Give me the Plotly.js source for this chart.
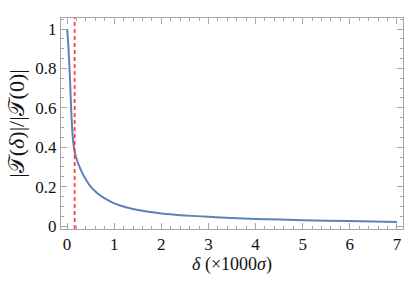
<!DOCTYPE html>
<html><head><meta charset="utf-8">
<script src="https://cdn.plot.ly/plotly-3.0.1.min.js"></script>
<style>html,body{margin:0;padding:0;background:#fff}#c{width:415px;height:290px}</style>
</head><body><div id="c"></div>
<script>
const delta = [0, 0.03, 0.06, 0.09, 0.12, 0.15, 0.2, 0.3, 0.4, 0.5, 0.65, 0.8, 1.0, 1.25, 1.5, 2, 2.5, 3, 3.5, 4, 5, 6, 7];
const ratio = [1.0, 0.9, 0.75, 0.57, 0.45, 0.39, 0.34, 0.28, 0.235, 0.2, 0.165, 0.14, 0.115, 0.095, 0.081, 0.064, 0.054, 0.047, 0.041, 0.036, 0.03, 0.025, 0.021];
const cutoff = [0.16];
const xTicks = [0, 1, 2, 3, 4, 5, 6, 7];
const yTicks = [0, 0.2, 0.4, 0.6, 0.8, 1];
const yTickText = ['0', '0.2', '0.4', '0.6', '0.8', '1'];

const SERIF = 'Liberation Serif';
function f(size) { return {family: SERIF, size: size, color: '#111'}; }
function axisCommon() {
  return {
    showline: true, linecolor: '#a8a8a8', linewidth: 1, mirror: 'allticks',
    ticks: 'inside', ticklen: 6, tickcolor: '#a8a8a8', tickwidth: 1,
    showgrid: false, zeroline: false, tickfont: f(17)
  };
}
const traces = [{
  x: delta, y: ratio, type: 'scatter', mode: 'lines',
  line: {color: '#5e81b5', width: 2, shape: 'spline', smoothing: 0.6},
  hoverinfo: 'skip'
}];
const layout = {
  width: 415, height: 290,
  margin: {l: 61, r: 12, t: 18, b: 61},
  paper_bgcolor: '#fff', plot_bgcolor: '#fff',
  showlegend: false, font: f(17),
  xaxis: Object.assign(axisCommon(), {
    range: [-0.13, 7.13], tickvals: xTicks, ticktext: xTicks.map(String),
    minor: {dtick: 0.2, tick0: 0, ticks: 'inside', ticklen: 3, tickcolor: '#a8a8a8', showgrid: false},
    title: {text: '<i>δ</i> (×1000<i>σ</i>)\u2003', font: f(18), standoff: 2}
  }),
  yaxis: Object.assign(axisCommon(), {
    range: [-0.015, 1.056], tickvals: yTicks, ticktext: yTickText,
    minor: {dtick: 0.05, tick0: 0, ticks: 'inside', ticklen: 3, tickcolor: '#a8a8a8', showgrid: false},
    title: {text: '|𝒯(<i>δ</i>)|/|𝒯(0)|', font: f(22), standoff: 4}
  }),
  shapes: cutoff.map(c => ({
    type: 'line', xref: 'x', yref: 'paper', x0: c, x1: c, y0: 0, y1: 1,
    line: {color: '#ff4040', width: 1.8, dash: '4px,3px'}
  }))
};
Plotly.newPlot('c', traces, layout, {staticPlot: true, displayModeBar: false});
</script></body></html>
